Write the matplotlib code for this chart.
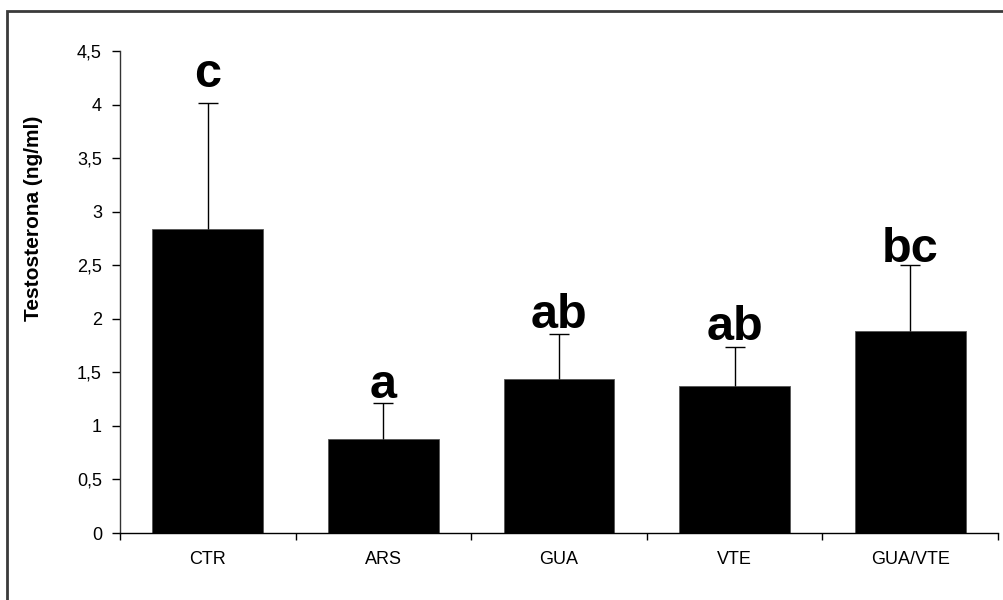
import matplotlib
matplotlib.use("Agg")
import matplotlib.pyplot as plt
from matplotlib.patches import Rectangle
from matplotlib.ticker import FuncFormatter

plt.rcParams['font.family'] = ['Liberation Sans', 'DejaVu Sans']

# ---- data ----
groups = ["CTR", "ARS", "GUA", "VTE", "GUA/VTE"]
means = [2.84, 0.88, 1.44, 1.37, 1.89]
errors = [1.17, 0.33, 0.42, 0.37, 0.61]
letters = ["c", "a", "ab", "ab", "bc"]
y_ticks = [0, 0.5, 1, 1.5, 2, 2.5, 3, 3.5, 4, 4.5]
y_label = "Testosterona (ng/ml)"

# ---- figure ----
W, H, DPI = 1004, 600, 100
fig = plt.figure(figsize=(W / DPI, H / DPI), dpi=DPI)
ax = fig.add_axes([120 / W, 1 - 533 / H, (998 - 120) / W, (533 - 51) / H])

centers = [i + 0.5 for i in range(len(groups))]
ax.bar(centers, means, width=0.63, color="black", edgecolor="#555555",
       linewidth=0.6, zorder=2)
eb = ax.errorbar(centers, means, yerr=[[0] * len(errors), errors], fmt="none",
                 ecolor="black", elinewidth=1.0, capsize=7, capthick=1.0,
                 zorder=3)
# hide the lower caps (only upper error shown)
eb[1][0].set_visible(False)

label_offsets = [12, 4, 4, 4.5, 2.5]  # points above error-bar caps
for c, m, e, lt, off in zip(centers, means, errors, letters, label_offsets):
    ax.annotate(lt, xy=(c, m + e), xytext=(0, off), textcoords="offset points",
                ha="center", va="baseline", fontsize=35, fontweight="bold",
                color="black")

ax.set_xlim(0, len(groups))
ax.set_ylim(0, 4.5)
ax.set_yticks(y_ticks)
ax.yaxis.set_major_formatter(FuncFormatter(
    lambda v, p: (f"{v:g}").replace(".", ",")))
ax.tick_params(axis="y", direction="out", length=6, width=1, pad=7,
               labelsize=13, colors="black")

# category boundary ticks (major, unlabeled) and labels at centers (minor)
ax.set_xticks(range(len(groups) + 1))
ax.set_xticklabels([])
ax.set_xticks(centers, minor=True)
ax.set_xticklabels(groups, minor=True)
ax.tick_params(axis="x", which="major", direction="out", length=5, width=1)
ax.tick_params(axis="x", which="minor", length=0, pad=13, labelsize=13)

for s in ["top", "right"]:
    ax.spines[s].set_visible(False)
ax.spines["left"].set_color("#333333")
ax.spines["left"].set_linewidth(1)
ax.spines["bottom"].set_color("black")
ax.spines["bottom"].set_linewidth(1)

fig.text(34 / W, 1 - 218.5 / H, y_label, rotation=90, ha="center",
         va="center", fontsize=15, fontweight="bold")

# outer frame (cut off at right and bottom)
fig.patches.append(Rectangle((7 / W, -0.1), 1.2, 1.1 - 11 / H,
                             transform=fig.transFigure, fill=False,
                             edgecolor="#3a3a3a", linewidth=2.0))

fig.savefig("out.png", dpi=DPI)
